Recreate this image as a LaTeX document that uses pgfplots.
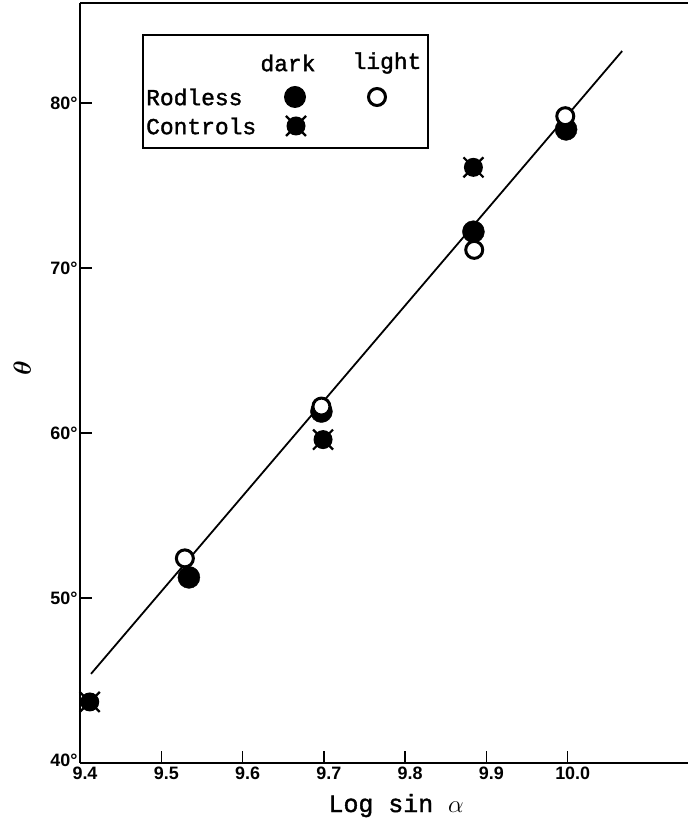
\documentclass[border=0pt]{standalone}
\usepackage{pgfplots}
\pgfplotsset{compat=1.18}
\usepackage{fontspec}
\usepackage{bm}
\setmainfont{Liberation Sans}
\newfontfamily\lettering[FakeBold=1.5]{Liberation Mono}

% control animals: filled disc with four short diagonal spikes
\pgfdeclareplotmark{ctrl}{%
  \pgfpathcircle{\pgfpointorigin}{0.95\pgfplotmarksize}%
  \pgfusepathqfill
  \pgfsetlinewidth{2.2bp}%
  \pgfpathmoveto{\pgfpoint{-\pgfplotmarksize}{-\pgfplotmarksize}}%
  \pgfpathlineto{\pgfpoint{\pgfplotmarksize}{\pgfplotmarksize}}%
  \pgfpathmoveto{\pgfpoint{-\pgfplotmarksize}{\pgfplotmarksize}}%
  \pgfpathlineto{\pgfpoint{\pgfplotmarksize}{-\pgfplotmarksize}}%
  \pgfusepathqstroke}

\pgfplotstableread{
x      y
9.412  43.7
9.699  59.6
9.884  76.1
}\controls

\pgfplotstableread{
x      y
9.534  51.25
9.697  61.3
9.884  72.2
9.998  78.4
}\rodlessdark

\pgfplotstableread{
x      y
9.529  52.4
9.697  61.6
9.997  79.2
}\rodlesslight

\pgfplotstableread{
x      y
9.885  71.1
}\rodlesslightlow

\begin{document}
\begin{tikzpicture}
\path[use as bounding box] (-80bp,-61bp) rectangle (608bp,763bp);
\begin{axis}[
  at={(0,0)}, anchor=south west,
  scale only axis,
  width=608bp, height=760bp,
  xmin=9.4, xmax=10.148,
  ymin=40, ymax=86.06,
  axis y line*=left,
  axis x line*=box,
  axis line style={line width=2.4bp, black},
  tick pos=left,
  tick align=inside,
  major tick length=12bp,
  every tick/.style={line width=1.5bp, black},
  xtick={9.4,9.5,9.6,9.7,9.8,9.9,10.0},
  xticklabels={9.4,9.5,9.6,9.7,9.8,9.9,10.0},
  ytick={40,50,60,70,80},
  yticklabels={\raisebox{5bp}{40°},50°,60°,70°,80°},
  ticklabel style={font=\fontsize{18}{18}\selectfont\bfseries},
  xticklabel style={xshift=5bp, yshift=0bp},
  yticklabel style={xshift=1bp},
  xlabel={\lettering Log sin $\alpha$},
  every axis x label/.style={at={(axis description cs:0.52,-0.056)}, anchor=center,
    font=\fontsize{25}{25}\selectfont},
  ylabel={$\bm{\theta}$},
  every axis y label/.style={at={(axis description cs:-0.095,0.52)}, anchor=center,
    rotate=90, font=\fontsize{28}{28}\selectfont},
  clip=false,
]
% fitted line
\addplot[no marks, line width=1.8bp, black] coordinates {(9.4135,45.4) (10.067,83.15)};
% light-adapted point lying under the dark one at 9.88
\addplot[only marks, mark=*, mark size=8.5bp, line width=3bp, draw=black, fill=white]
  table[x=x, y=y] {\rodlesslightlow};
% rodless, dark
\addplot[only marks, mark=*, mark size=11bp, black] table[x=x, y=y] {\rodlessdark};
% rodless, light
\addplot[only marks, mark=*, mark size=8.5bp, line width=3bp, draw=black, fill=white]
  table[x=x, y=y] {\rodlesslight};
% controls, dark
\addplot[only marks, mark=ctrl, mark size=10bp, black] table[x=x, y=y] {\controls};
\end{axis}

% key
\draw[line width=1.3bp] (63bp,615bp) rectangle (348bp,728bp);
\begin{scope}[font=\lettering\fontsize{23}{23}\selectfont]
\node at (208bp,700bp) {dark};
\node at (307bp,700bp) {light};
\node[anchor=west, inner sep=0pt] at (66bp,666bp) {Rodless};
\node[anchor=west, inner sep=0pt] at (66bp,637bp) {Controls};
\end{scope}
\fill (215bp,666bp) circle (11bp);
\draw[line width=3bp] (297bp,666bp) circle (8.5bp);
\fill (216bp,637bp) circle (9.5bp);
\draw[line width=2.2bp] (206bp,627bp) -- (226bp,647bp) (206bp,647bp) -- (226bp,627bp);
\end{tikzpicture}
\end{document}
